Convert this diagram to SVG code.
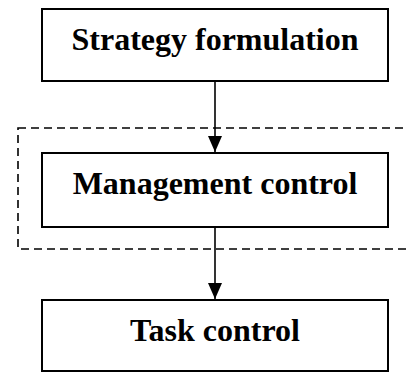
<svg xmlns="http://www.w3.org/2000/svg" width="406" height="373" viewBox="0 0 406 373">
  <defs>
    <style>
      .box { fill: #ffffff; stroke: #000000; stroke-width: 2; }
      .label { font-family: "Liberation Serif", "Times New Roman", serif; font-weight: bold; font-size: 32px; fill: #000000; text-anchor: middle; }
      .link { stroke: #000000; stroke-width: 1.6; fill: none; }
      .frame { fill: none; stroke: #000000; stroke-width: 1.6; stroke-dasharray: 8 5; }
    </style>
    <marker id="arrow" viewBox="0 0 16 14" refX="16" refY="7" markerWidth="16" markerHeight="14" markerUnits="userSpaceOnUse" orient="auto">
      <path d="M0,0 L16,7 L0,14 Z" fill="#000000"/>
    </marker>
  </defs>

  <rect width="406" height="373" fill="#ffffff"/>

  <!-- dashed boundary around management control -->
  <g id="boundary">
    <rect class="frame" x="18" y="128" width="400" height="121"/>
  </g>

  <g id="connectors">
    <line class="link" x1="215" y1="81" x2="215" y2="152" marker-end="url(#arrow)"/>
    <line class="link" x1="215" y1="227" x2="215" y2="299" marker-end="url(#arrow)"/>
  </g>

  <g id="strategy">
    <rect class="box" x="42" y="9" width="346" height="72"/>
    <text class="label" x="215" y="50">Strategy formulation</text>
  </g>

  <g id="management">
    <rect class="box" x="42" y="153" width="346" height="74"/>
    <text class="label" x="215" y="194">Management control</text>
  </g>

  <g id="task">
    <rect class="box" x="42" y="300" width="346" height="71"/>
    <text class="label" x="215" y="341">Task control</text>
  </g>
</svg>
